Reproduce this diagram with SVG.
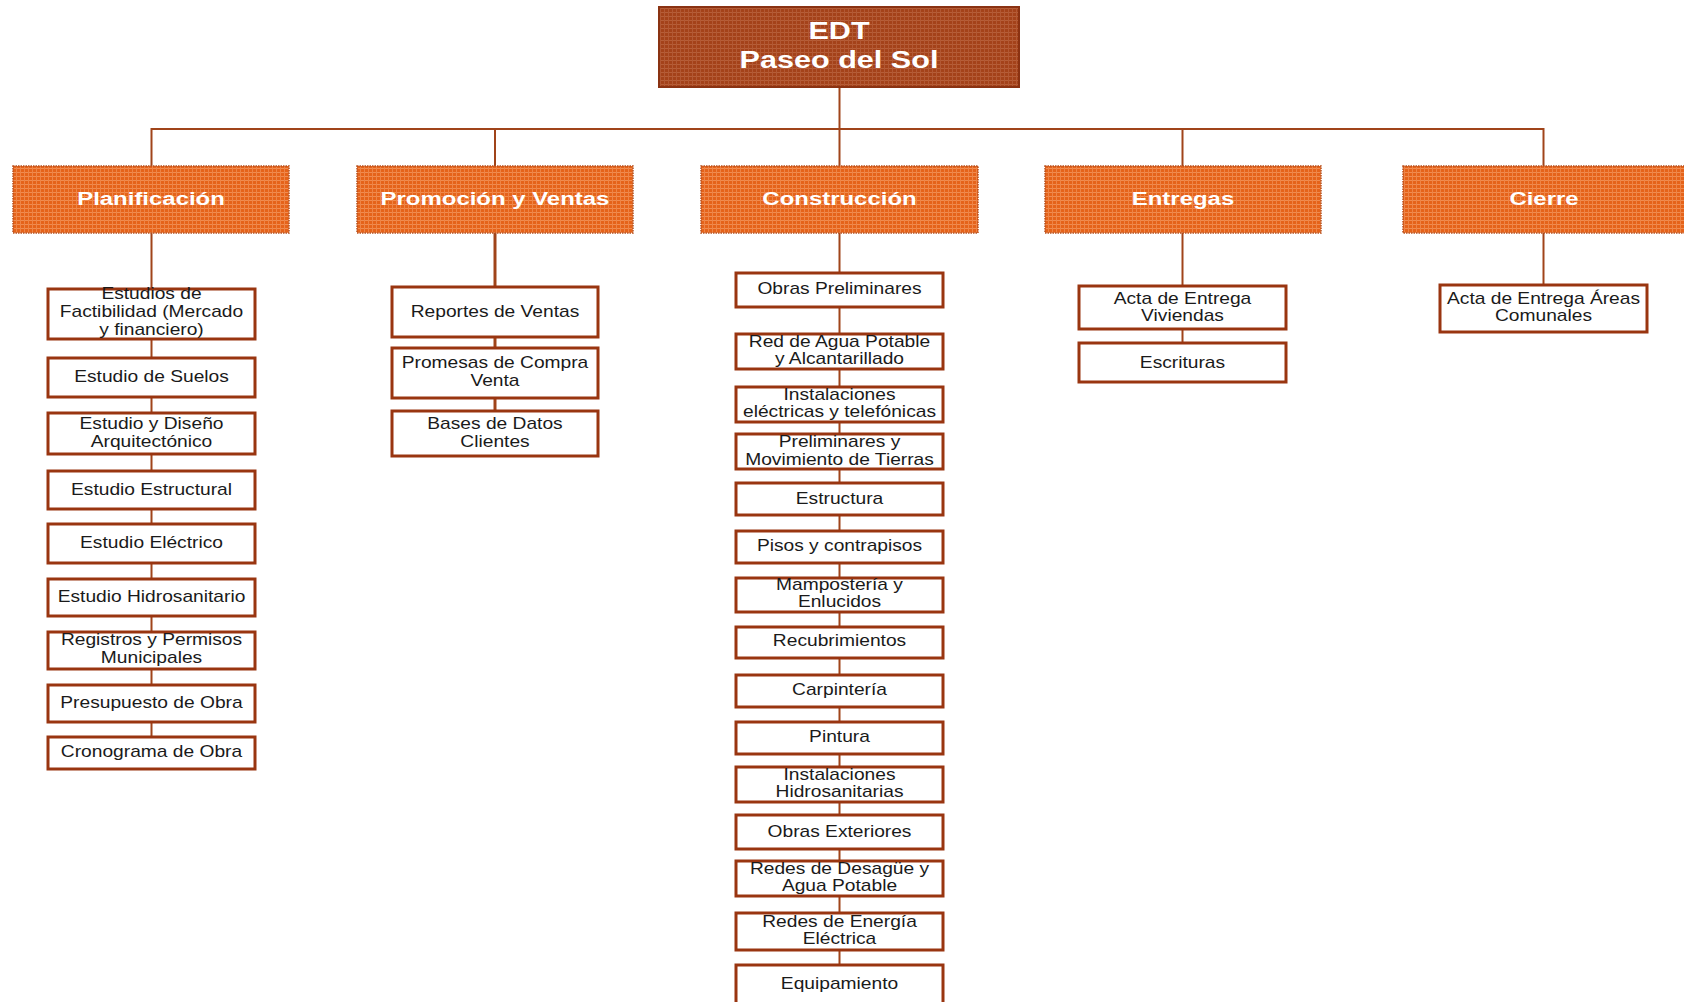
<svg xmlns="http://www.w3.org/2000/svg" width="1684" height="1002" viewBox="0 0 1684 1002">
<defs>
<pattern id="pOrange" width="4" height="4" patternUnits="userSpaceOnUse">
<rect width="4" height="4" fill="#e5631a"/>
<rect x="0" y="0" width="4" height="1" fill="#f08c50"/>
<rect x="0" y="0" width="1" height="4" fill="#ee8446"/>
</pattern>
<pattern id="pRoot" width="4" height="4" patternUnits="userSpaceOnUse">
<rect width="4" height="4" fill="#a4421a"/>
<rect x="0" y="0" width="4" height="1" fill="#b65e38"/>
<rect x="0" y="0" width="1" height="4" fill="#b25834"/>
</pattern>
<style>
.root rect{fill:url(#pRoot);stroke:#8a3212;stroke-width:2}
.l1 rect{fill:url(#pOrange);stroke:#b8501e;stroke-width:1.5;stroke-dasharray:1.5 1}
.leaf rect{fill:#ffffff;stroke:#993510;stroke-width:3}
.tRoot{font-family:"Liberation Sans",Arial,sans-serif;font-weight:bold;font-size:23px;fill:#ffffff;text-anchor:middle}
.tL1{font-family:"Liberation Sans",Arial,sans-serif;font-weight:bold;font-size:19px;fill:#ffffff;text-anchor:middle}
.tLeaf{font-family:"Liberation Sans",Arial,sans-serif;font-size:16px;fill:#1a1a1a;text-anchor:middle}
.conn line{stroke:#a0441a;stroke-width:2;fill:none}
</style>
</defs>
<rect width="1684" height="1002" fill="#ffffff"/>

<g id="connectors" class="conn">
<line x1="839.5" y1="87" x2="839.5" y2="129"/>
<line x1="151" y1="129" x2="1544" y2="129"/>
<line x1="151.5" y1="128" x2="151.5" y2="166"/>
<line x1="495" y1="128" x2="495" y2="166"/>
<line x1="839.5" y1="128" x2="839.5" y2="166"/>
<line x1="1182.5" y1="128" x2="1182.5" y2="166"/>
<line x1="1543.5" y1="128" x2="1543.5" y2="166"/>
<line x1="151.5" y1="233" x2="151.5" y2="737"/>
<line x1="495" y1="233" x2="495" y2="411" style="stroke-width:3"/>
<line x1="839.5" y1="233" x2="839.5" y2="965"/>
<line x1="1182.5" y1="233" x2="1182.5" y2="343"/>
<line x1="1543.5" y1="233" x2="1543.5" y2="285"/>
</g>

<g id="root" class="root">
<rect x="659" y="7" width="360" height="80"/>
<text class="tRoot" transform="translate(839,39) scale(1.33,1)">EDT</text>
<text class="tRoot" transform="translate(839,68) scale(1.33,1)">Paseo del Sol</text>
</g>

<g id="planificacion" class="l1">
<rect x="13" y="166" width="276" height="67"/>
<text class="tL1" transform="translate(151,205) scale(1.26,1)">Planificación</text>
</g>
<g id="promocion" class="l1">
<rect x="357" y="166" width="276" height="67"/>
<text class="tL1" transform="translate(495,205) scale(1.26,1)">Promoción y Ventas</text>
</g>
<g id="construccion" class="l1">
<rect x="701" y="166" width="277" height="67"/>
<text class="tL1" transform="translate(839.5,205) scale(1.26,1)">Construcción</text>
</g>
<g id="entregas" class="l1">
<rect x="1045" y="166" width="276" height="67"/>
<text class="tL1" transform="translate(1183,205) scale(1.26,1)">Entregas</text>
</g>
<g id="cierre" class="l1">
<rect x="1403" y="166" width="290" height="67"/>
<text class="tL1" transform="translate(1544,205) scale(1.26,1)">Cierre</text>
</g>

<!-- Planificación children -->
<g id="p1" class="leaf"><rect x="48" y="289" width="207" height="50"/>
<text class="tLeaf" transform="translate(151.5,299) scale(1.2,1)"><tspan x="0" y="0">Estudios de</tspan><tspan x="0" y="18">Factibilidad (Mercado</tspan><tspan x="0" y="36">y financiero)</tspan></text></g>
<g id="p2" class="leaf"><rect x="48" y="358" width="207" height="39"/>
<text class="tLeaf" transform="translate(151.5,382) scale(1.2,1)">Estudio de Suelos</text></g>
<g id="p3" class="leaf"><rect x="48" y="413" width="207" height="41"/>
<text class="tLeaf" transform="translate(151.5,429) scale(1.2,1)"><tspan x="0" y="0">Estudio y Diseño</tspan><tspan x="0" y="18">Arquitectónico</tspan></text></g>
<g id="p4" class="leaf"><rect x="48" y="471" width="207" height="38"/>
<text class="tLeaf" transform="translate(151.5,494.5) scale(1.2,1)">Estudio Estructural</text></g>
<g id="p5" class="leaf"><rect x="48" y="524" width="207" height="39"/>
<text class="tLeaf" transform="translate(151.5,547.5) scale(1.2,1)">Estudio Eléctrico</text></g>
<g id="p6" class="leaf"><rect x="48" y="579" width="207" height="37"/>
<text class="tLeaf" transform="translate(151.5,602) scale(1.2,1)">Estudio Hidrosanitario</text></g>
<g id="p7" class="leaf"><rect x="48" y="632" width="207" height="37"/>
<text class="tLeaf" transform="translate(151.5,645) scale(1.2,1)"><tspan x="0" y="0">Registros y Permisos</tspan><tspan x="0" y="18">Municipales</tspan></text></g>
<g id="p8" class="leaf"><rect x="48" y="685" width="207" height="37"/>
<text class="tLeaf" transform="translate(151.5,708) scale(1.2,1)">Presupuesto de Obra</text></g>
<g id="p9" class="leaf"><rect x="48" y="737" width="207" height="32"/>
<text class="tLeaf" transform="translate(151.5,757) scale(1.2,1)">Cronograma de Obra</text></g>

<!-- Promoción children -->
<g id="v1" class="leaf"><rect x="392" y="287" width="206" height="50"/>
<text class="tLeaf" transform="translate(495,317) scale(1.2,1)">Reportes de Ventas</text></g>
<g id="v2" class="leaf"><rect x="392" y="348" width="206" height="50"/>
<text class="tLeaf" transform="translate(495,368) scale(1.2,1)"><tspan x="0" y="0">Promesas de Compra</tspan><tspan x="0" y="18">Venta</tspan></text></g>
<g id="v3" class="leaf"><rect x="392" y="411" width="206" height="45"/>
<text class="tLeaf" transform="translate(495,429) scale(1.2,1)"><tspan x="0" y="0">Bases de Datos</tspan><tspan x="0" y="18">Clientes</tspan></text></g>

<!-- Construcción children -->
<g id="c1" class="leaf"><rect x="736" y="273" width="207" height="34"/>
<text class="tLeaf" transform="translate(839.5,294) scale(1.2,1)">Obras Preliminares</text></g>
<g id="c2" class="leaf"><rect x="736" y="334" width="207" height="35"/>
<text class="tLeaf" transform="translate(839.5,347) scale(1.2,1)"><tspan x="0" y="0">Red de Agua Potable</tspan><tspan x="0" y="17.5">y Alcantarillado</tspan></text></g>
<g id="c3" class="leaf"><rect x="736" y="387" width="207" height="35"/>
<text class="tLeaf" transform="translate(839.5,399.5) scale(1.2,1)"><tspan x="0" y="0">Instalaciones</tspan><tspan x="0" y="17.5">eléctricas y telefónicas</tspan></text></g>
<g id="c4" class="leaf"><rect x="736" y="434" width="207" height="35"/>
<text class="tLeaf" transform="translate(839.5,447) scale(1.2,1)"><tspan x="0" y="0">Preliminares y</tspan><tspan x="0" y="18">Movimiento de Tierras</tspan></text></g>
<g id="c5" class="leaf"><rect x="736" y="483" width="207" height="32"/>
<text class="tLeaf" transform="translate(839.5,503.5) scale(1.2,1)">Estructura</text></g>
<g id="c6" class="leaf"><rect x="736" y="531" width="207" height="32"/>
<text class="tLeaf" transform="translate(839.5,551) scale(1.2,1)">Pisos y contrapisos</text></g>
<g id="c7" class="leaf"><rect x="736" y="578" width="207" height="34"/>
<text class="tLeaf" transform="translate(839.5,590) scale(1.2,1)"><tspan x="0" y="0">Mampostería y</tspan><tspan x="0" y="17.5">Enlucidos</tspan></text></g>
<g id="c8" class="leaf"><rect x="736" y="627" width="207" height="31"/>
<text class="tLeaf" transform="translate(839.5,646) scale(1.2,1)">Recubrimientos</text></g>
<g id="c9" class="leaf"><rect x="736" y="675" width="207" height="32"/>
<text class="tLeaf" transform="translate(839.5,694.5) scale(1.2,1)">Carpintería</text></g>
<g id="c10" class="leaf"><rect x="736" y="722" width="207" height="32"/>
<text class="tLeaf" transform="translate(839.5,742) scale(1.2,1)">Pintura</text></g>
<g id="c11" class="leaf"><rect x="736" y="767" width="207" height="35"/>
<text class="tLeaf" transform="translate(839.5,779.5) scale(1.2,1)"><tspan x="0" y="0">Instalaciones</tspan><tspan x="0" y="17.5">Hidrosanitarias</tspan></text></g>
<g id="c12" class="leaf"><rect x="736" y="815" width="207" height="34"/>
<text class="tLeaf" transform="translate(839.5,837) scale(1.2,1)">Obras Exteriores</text></g>
<g id="c13" class="leaf"><rect x="736" y="861" width="207" height="35"/>
<text class="tLeaf" transform="translate(839.5,873.5) scale(1.2,1)"><tspan x="0" y="0">Redes de Desagüe y</tspan><tspan x="0" y="18">Agua Potable</tspan></text></g>
<g id="c14" class="leaf"><rect x="736" y="913" width="207" height="37"/>
<text class="tLeaf" transform="translate(839.5,927) scale(1.2,1)"><tspan x="0" y="0">Redes de Energía</tspan><tspan x="0" y="17.5">Eléctrica</tspan></text></g>
<g id="c15" class="leaf"><rect x="736" y="965" width="207" height="50"/>
<text class="tLeaf" transform="translate(839.5,988.5) scale(1.2,1)">Equipamiento</text></g>

<!-- Entregas children -->
<g id="e1" class="leaf"><rect x="1079" y="286" width="207" height="43"/>
<text class="tLeaf" transform="translate(1182.5,303.5) scale(1.2,1)"><tspan x="0" y="0">Acta de Entrega</tspan><tspan x="0" y="17.5">Viviendas</tspan></text></g>
<g id="e2" class="leaf"><rect x="1079" y="343" width="207" height="39"/>
<text class="tLeaf" transform="translate(1182.5,367.5) scale(1.2,1)">Escrituras</text></g>

<!-- Cierre children -->
<g id="z1" class="leaf"><rect x="1440" y="285" width="207" height="47"/>
<text class="tLeaf" transform="translate(1543.5,304) scale(1.2,1)"><tspan x="0" y="0">Acta de Entrega Áreas</tspan><tspan x="0" y="17.5">Comunales</tspan></text></g>
</svg>
